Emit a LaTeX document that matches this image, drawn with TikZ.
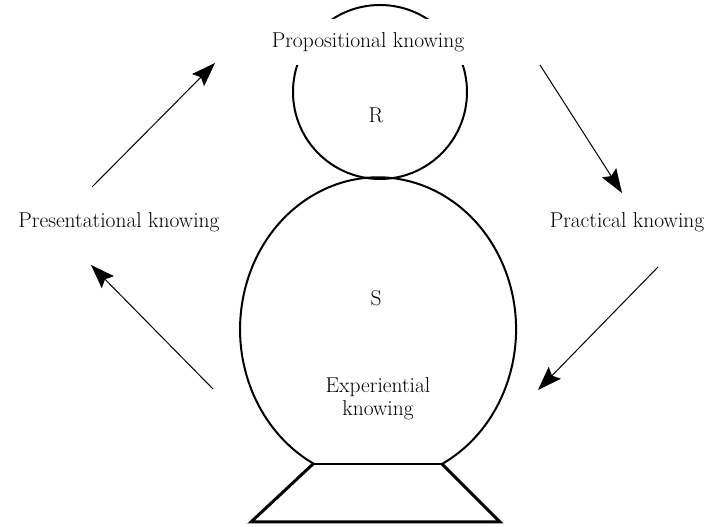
\documentclass[tikz,border=0pt]{standalone}
\usetikzlibrary{arrows.meta}

\begin{document}
\begin{tikzpicture}[x=1pt, y=1pt,
    every node/.style={font=\fontsize{21.5}{23}\selectfont, align=center},
    body/.style={line width=2pt},
    base/.style={line width=3pt, line join=miter},
    cycle/.style={-{Stealth[length=24pt, width=17pt, inset=4pt]}, line width=1pt}]
    \useasboundingbox (0,0) rectangle (713,527);

    % Head and body
    \node[circle, draw, body, minimum size=174pt, inner sep=0pt] (head) at (380,435) {};
    \draw[body] (442,63) arc [start angle=-62.4, end angle=242.4, x radius=138, y radius=152];

    % Base
    \coordinate (tl) at (313,63);
    \coordinate (tr) at (442,63);
    \coordinate (bl) at (251,5);
    \coordinate (br) at (500,5);
    \draw[body] (tl) -- (tr);
    \draw[base] (tl) -- (bl) -- (br) -- (tr);

    % Labels
    \node[fill=white, inner xsep=1pt, inner ysep=13pt] (prop) at (368,485) {Propositional knowing};
    \node (r) at (376,412) {R};
    \node (s) at (376,229) {S};
    \node (exp) at (378,128) {Experiential\\knowing};
    \node (pres) at (119,305) {Presentational knowing};
    \node (prac) at (627,305) {Practical knowing};

    % Cycle
    \coordinate (a1) at (92,340);  \coordinate (b1) at (215,464);
    \coordinate (a2) at (540,462); \coordinate (b2) at (622,334);
    \coordinate (a3) at (658,260); \coordinate (b3) at (538,137);
    \coordinate (a4) at (213,138); \coordinate (b4) at (91,262);
    \draw[cycle] (a1) -- (b1);
    \draw[cycle] (a2) -- (b2);
    \draw[cycle] (a3) -- (b3);
    \draw[cycle] (a4) -- (b4);

\end{tikzpicture}
\end{document}
